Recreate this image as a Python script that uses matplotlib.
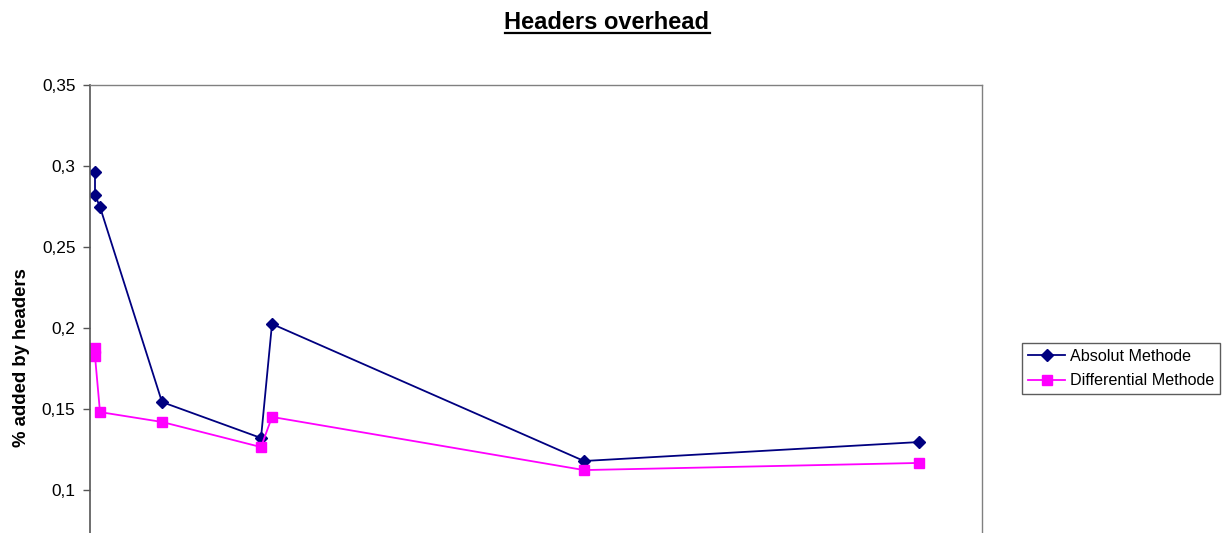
import matplotlib
matplotlib.use("Agg")
import matplotlib.pyplot as plt
from matplotlib.ticker import FuncFormatter, MultipleLocator

plt.rcParams['font.family'] = ['Liberation Sans', 'DejaVu Sans']

# x positions (axis not visible in the reference crop; relative units)
x_values = [50, 50, 100, 720, 1710, 1820, 4940, 8290]
absolut = [0.2963, 0.2821, 0.2747, 0.1543, 0.1321, 0.2025, 0.1179, 0.1296]
differential = [0.1877, 0.1827, 0.1481, 0.1420, 0.1265, 0.1451, 0.1123, 0.1167]
series_names = ["Absolut Methode", "Differential Methode"]
title = "Headers overhead"
ylabel = "% added by headers"

W, H = 1229, 533
fig = plt.figure(figsize=(W / 100, H / 100), dpi=100)
ax = fig.add_axes([90 / W, 0, (982 - 90) / W, 1 - 85 / H])

ax.plot(x_values, absolut, color='#000080', lw=1.3, marker='D', ms=6,
        mfc='#000080', mec='#000080', label=series_names[0])
ax.plot(x_values, differential, color='#FF00FF', lw=1.3, marker='s', ms=6.5,
        mfc='#FF00FF', mec='#FF00FF', label=series_names[1])

ax.set_xlim(0, 8920)
ax.set_ylim(0.35 - (533 - 85) / 1620, 0.35)
ax.yaxis.set_major_locator(MultipleLocator(0.05))
ax.yaxis.set_major_formatter(FuncFormatter(lambda v, p: ('%g' % round(v, 2)).replace('.', ',')))
ax.set_xticks([])
ax.tick_params(axis='y', direction='out', length=5, width=1, color='#555555',
               labelsize=12.4, pad=5.5)
for s in ['top', 'right']:
    ax.spines[s].set_color('#808080')
    ax.spines[s].set_linewidth(1)
ax.spines['left'].set_color('#555555')
ax.spines['left'].set_linewidth(1.2)
ax.spines['bottom'].set_visible(False)

fig.text(22 / W, 1 - 358 / H, ylabel, rotation=90, ha='center', va='center',
         fontsize=13.3, fontweight='bold')

t = fig.text(607 / W, 1 - 22 / H, title, ha='center', va='center',
             fontsize=17, fontweight='bold')
fig.canvas.draw()
bb = t.get_window_extent().transformed(fig.transFigure.inverted())
uy = bb.y0 + 0.001
fig.add_artist(plt.Line2D([bb.x0, bb.x1], [uy, uy], color='black', lw=1.6,
                          transform=fig.transFigure))

leg = fig.legend(loc='center left', bbox_to_anchor=(1022 / W, 1 - 368.5 / H),
                 frameon=True, fancybox=False, edgecolor='#333333',
                 fontsize=11.6, handlelength=2.3, borderpad=0.38,
                 labelspacing=0.6, handletextpad=0.3, borderaxespad=0)
leg.get_frame().set_linewidth(1)

fig.savefig('out.png', dpi=100)
